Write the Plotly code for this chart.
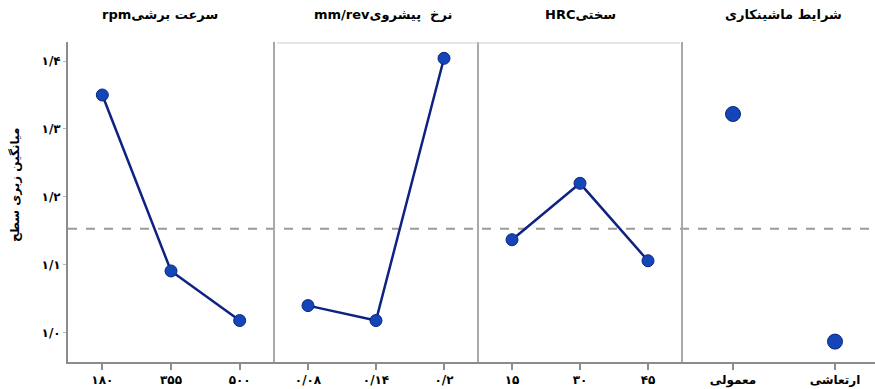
import plotly.graph_objects as go

# Data
panel_titles = ["rpmسرعت برشی", "mm/revنرخ  پیشروی", "HRCسختی", "شرایط ماشینکاری"]
speed_labels = ["۱۸۰", "۳۵۵", "۵۰۰"]
speed_means = [1.350, 1.091, 1.018]
feed_labels = ["۰/۰۸", "۰/۱۴", "۰/۲"]
feed_means = [1.040, 1.018, 1.404]
hard_labels = ["۱۵", "۳۰", "۴۵"]
hard_means = [1.137, 1.220, 1.106]
cond_labels = ["معمولی", "ارتعاشی"]
cond_means = [1.322, 0.987]
grand_mean = 1.153
y_tickvals = [1.0, 1.1, 1.2, 1.3, 1.4]
y_ticktext = ["۱/۰", "۱/۱", "۱/۲", "۱/۳", "۱/۴"]
y_title = "میانگین زبری سطح"

W, H = 875, 389
ML, MR, MT, MB = 68, 0, 42, 27
PW = W - ML - MR
PH = H - MT - MB

def px(x):
    return (x - ML) / PW

def py(y):
    return 1 - (y - MT) / PH

bounds = [68, 274, 478, 682, 886]
domains = [[px(bounds[i]), min(1.0, px(bounds[i + 1]))] for i in range(4)]

FONT = "DejaVu Sans"
line_col = "#0d2282"
mk_col = "#1446b8"
mk_line = "#0a2580"
axis_gray = "#8c8c8c"

fig = go.Figure()

panels = [
    (speed_labels, speed_means, 12),
    (feed_labels, feed_means, 12),
    (hard_labels, hard_means, 12),
    (cond_labels, cond_means, 15),
]

for i, (labels, vals, msize) in enumerate(panels):
    xa = "x" if i == 0 else f"x{i+1}"
    pos = list(range(len(labels)))
    mode = "lines+markers" if i < 3 else "markers"
    fig.add_trace(go.Scatter(
        x=pos, y=vals, xaxis=xa, yaxis="y", mode=mode,
        line=dict(color=line_col, width=2.5),
        marker=dict(symbol="circle", size=msize, color=mk_col,
                    line=dict(color=mk_line, width=1)),
        showlegend=False, hoverinfo="skip",
    ))
    key = "xaxis" if i == 0 else f"xaxis{i+1}"
    n = len(labels)
    dom = domains[i]
    full_w = bounds[i + 1] - bounds[i]
    vis_w = (dom[1] - dom[0]) * PW
    rng = [-0.5, -0.5 + n * vis_w / full_w]
    fig.layout[key] = dict(
        domain=dom, anchor="y", range=rng,
        tickmode="array", tickvals=pos, ticktext=labels,
        ticks="outside", ticklen=6, tickwidth=1.5, tickcolor=axis_gray,
        showline=True, linecolor=axis_gray, linewidth=2,
        showgrid=False, zeroline=False,
        tickfont=dict(family=FONT, size=12, color="black", weight="bold"),
        fixedrange=True,
    )

fig.update_layout(
    width=W, height=H,
    margin=dict(l=ML, r=MR, t=MT, b=MB, pad=0),
    plot_bgcolor="white", paper_bgcolor="white",
    yaxis=dict(
        domain=[0, 1], anchor="x", range=[0.957, 1.428],
        tickmode="array", tickvals=y_tickvals, ticktext=y_ticktext,
        ticks="outside", ticklen=3, tickwidth=1, tickcolor="#bbbbbb",
        showline=True, linecolor=axis_gray, linewidth=2,
        showgrid=False, zeroline=False,
        tickfont=dict(family=FONT, size=12, color="black", weight="bold"),
    ),
)

shapes = []
# panel separators
for b in bounds[1:4]:
    shapes.append(dict(type="line", xref="paper", yref="paper",
                       x0=px(b), x1=px(b), y0=0, y1=1,
                       line=dict(color="#a8a8a8", width=2)))
# top thin line over middle panels
shapes.append(dict(type="line", xref="paper", yref="paper",
                   x0=px(277), x1=px(680), y0=py(43), y1=py(43),
                   line=dict(color="#cccccc", width=1)))
# grand mean dashed line
shapes.append(dict(type="line", xref="paper", yref="y",
                   x0=0, x1=1, y0=grand_mean, y1=grand_mean,
                   line=dict(color="#9a9a9a", width=2, dash="dash"), layer="below"))
fig.update_layout(shapes=shapes)

annotations = []
title_centers = [160, 383, 580, 783]
for t, cx in zip(panel_titles, title_centers):
    annotations.append(dict(text=t, x=px(cx), y=py(15), xref="paper", yref="paper",
                            showarrow=False, xanchor="center", yanchor="middle",
                            font=dict(family=FONT, size=13, color="black", weight="bold")))
annotations.append(dict(text=y_title, x=px(15), y=py(185), xref="paper", yref="paper",
                        showarrow=False, textangle=-90, xanchor="center", yanchor="middle",
                        font=dict(family=FONT, size=12, color="black", weight="bold")))
fig.update_layout(annotations=annotations)

fig.write_html("out.html")
